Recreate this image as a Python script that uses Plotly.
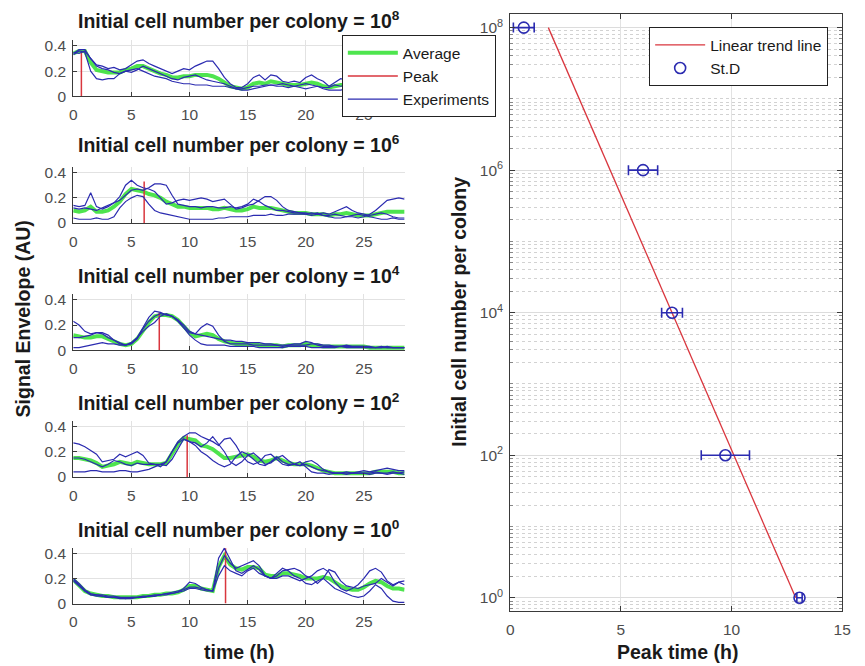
import numpy as np
import plotly.graph_objects as go

# ---------------- data ----------------
time_h = np.arange(0, 28.51, 0.5)  # 58 samples, 0 .. 28.5 h

exponents = ["8", "6", "4", "2", "0"]

# 10^8
p8_exp_a = [.34,.37,.37,.30,.25,.24,.22,.23,.21,.22,
            .25,.28,.29,.26,.24,.22,.20,.18,.20,.22,
            .21,.24,.26,.28,.28,.22,.15,.10,.07,.07,
            .10,.15,.17,.13,.17,.16,.12,.11,.12,.11,
            .15,.17,.14,.12,.08,.11,.14,.13,.10,.09,
            .12,.10,.08,.09,.07,.08,.07,.08]
p8_exp_b = [.33,.36,.35,.20,.14,.13,.14,.14,.18,.20,
            .21,.22,.20,.18,.16,.15,.14,.12,.11,.10,
            .10,.09,.09,.09,.08,.08,.08,.07,.06,.05,
            .05,.06,.07,.08,.09,.08,.08,.07,.08,.07,
            .06,.07,.08,.06,.05,.05,.05,.06,.06,.05,
            .06,.07,.05,.06,.07,.06,.05,.06]
p8_exp_c = [.35,.34,.36,.30,.24,.22,.21,.19,.18,.20,
            .19,.21,.24,.22,.20,.18,.16,.14,.13,.15,
            .16,.17,.15,.13,.12,.11,.10,.08,.06,.06,
            .07,.08,.08,.09,.09,.09,.10,.09,.08,.09,
            .10,.09,.08,.07,.07,.09,.08,.09,.08,.07,
            .08,.09,.07,.08,.09,.08,.07,.08]
p8_avg = [.34,.36,.36,.27,.21,.20,.19,.19,.19,.21,
          .22,.24,.24,.22,.20,.18,.17,.15,.15,.16,
          .16,.17,.17,.17,.16,.14,.11,.08,.07,.06,
          .07,.10,.11,.10,.12,.11,.10,.09,.09,.09,
          .10,.11,.10,.08,.07,.08,.09,.09,.08,.07,
          .09,.09,.07,.08,.08,.07,.06,.07]

# 10^6
p6_exp_a = [.14,.13,.14,.24,.13,.11,.13,.16,.21,.30,
            .34,.30,.28,.27,.25,.20,.15,.16,.18,.19,
            .18,.19,.20,.19,.17,.18,.19,.15,.11,.12,
            .14,.15,.18,.21,.21,.18,.13,.10,.09,.08,
            .08,.07,.08,.06,.06,.07,.06,.05,.05,.04,
            .05,.07,.10,.14,.18,.19,.20,.19]
p6_exp_b = [.04,.03,.03,.03,.04,.03,.03,.05,.12,.17,
            .20,.22,.21,.15,.10,.08,.07,.06,.05,.04,
            .03,.03,.03,.03,.03,.04,.04,.05,.05,.05,
            .05,.06,.06,.06,.07,.06,.06,.07,.07,.07,
            .07,.06,.07,.06,.05,.04,.04,.05,.06,.07,
            .06,.05,.04,.03,.03,.04,.03,.03]
p6_exp_c = [.12,.11,.12,.11,.10,.12,.14,.16,.18,.22,
            .26,.27,.26,.28,.31,.31,.30,.22,.15,.14,
            .13,.13,.12,.13,.13,.12,.12,.13,.12,.13,
            .15,.19,.17,.14,.12,.10,.10,.09,.08,.08,
            .07,.08,.07,.08,.07,.09,.11,.13,.10,.08,
            .07,.06,.07,.08,.07,.05,.04,.04]
p6_avg = [.10,.09,.10,.13,.09,.09,.10,.13,.17,.23,
          .27,.26,.25,.23,.22,.20,.17,.15,.13,.13,
          .12,.12,.12,.12,.11,.11,.12,.11,.10,.10,
          .11,.13,.12,.12,.12,.11,.10,.09,.08,.08,
          .08,.07,.07,.07,.06,.07,.07,.08,.07,.06,
          .06,.06,.07,.08,.09,.09,.09,.09]

# 10^4
p4_exp_a = [.23,.20,.15,.13,.14,.14,.12,.08,.05,.04,
            .06,.10,.18,.26,.31,.30,.28,.27,.24,.18,
            .14,.13,.18,.21,.19,.12,.07,.05,.05,.05,
            .05,.04,.04,.04,.04,.04,.04,.04,.05,.05,
            .07,.06,.04,.03,.03,.03,.03,.03,.03,.03,
            .03,.02,.02,.03,.02,.02,.02,.02]
p4_exp_b = [.02,.02,.03,.04,.05,.06,.05,.05,.04,.04,
            .06,.10,.15,.19,.22,.27,.29,.27,.23,.18,
            .12,.08,.05,.04,.04,.04,.04,.03,.03,.03,
            .03,.03,.02,.02,.02,.02,.02,.03,.03,.03,
            .03,.02,.02,.02,.02,.02,.03,.02,.02,.02,
            .02,.02,.02,.02,.02,.02,.02,.02]
p4_exp_c = [.10,.10,.11,.12,.14,.13,.10,.08,.06,.04,
            .05,.09,.17,.23,.27,.29,.28,.27,.24,.20,
            .15,.13,.12,.11,.10,.09,.08,.08,.07,.07,
            .06,.06,.06,.05,.05,.04,.03,.04,.04,.04,
            .04,.05,.05,.04,.04,.03,.03,.04,.03,.03,
            .03,.03,.02,.02,.03,.02,.02,.02]
p4_avg = [.12,.11,.10,.10,.11,.11,.09,.07,.05,.04,
          .05,.09,.16,.22,.27,.28,.28,.27,.24,.19,
          .14,.11,.12,.13,.12,.09,.07,.06,.05,.05,
          .05,.05,.04,.04,.04,.04,.03,.04,.04,.04,
          .05,.04,.04,.03,.03,.03,.03,.03,.03,.03,
          .03,.02,.02,.02,.02,.02,.02,.02]

# 10^2
p2_exp_a = [.27,.26,.24,.21,.18,.12,.13,.14,.18,.16,
            .18,.20,.17,.11,.10,.10,.09,.14,.22,.30,
            .28,.27,.24,.27,.32,.26,.20,.12,.09,.12,
            .17,.19,.15,.10,.11,.15,.17,.13,.10,.09,
            .12,.13,.10,.06,.04,.03,.03,.02,.03,.03,
            .03,.02,.03,.03,.02,.03,.03,.02]
p2_exp_b = [.04,.04,.04,.05,.05,.04,.04,.04,.05,.05,
            .04,.04,.05,.06,.08,.10,.12,.20,.28,.32,
            .35,.35,.32,.30,.28,.25,.30,.31,.25,.17,
            .12,.10,.12,.17,.18,.14,.10,.09,.10,.12,
            .08,.04,.03,.03,.02,.03,.03,.04,.03,.04,
            .05,.04,.05,.06,.07,.06,.05,.05]
p2_exp_c = [.15,.15,.14,.12,.10,.08,.10,.13,.12,.10,
            .09,.11,.10,.10,.10,.08,.12,.20,.27,.30,
            .28,.25,.20,.17,.13,.10,.08,.10,.16,.20,
            .18,.14,.10,.09,.12,.16,.12,.10,.10,.09,
            .10,.08,.06,.05,.04,.03,.03,.03,.03,.03,
            .03,.03,.04,.03,.03,.04,.03,.04]
p2_avg = [.15,.15,.14,.13,.11,.08,.09,.10,.12,.11,
          .10,.12,.11,.10,.10,.10,.11,.18,.26,.31,
          .30,.29,.25,.24,.22,.18,.15,.15,.16,.17,
          .18,.16,.13,.12,.13,.15,.13,.11,.10,.10,
          .10,.09,.07,.05,.04,.03,.03,.03,.03,.03,
          .03,.03,.04,.04,.04,.04,.03,.03]

# 10^0
p0_exp_a = [.20,.16,.11,.08,.07,.07,.06,.06,.05,.05,
            .05,.05,.06,.06,.07,.07,.08,.08,.09,.12,
            .17,.16,.13,.11,.10,.28,.38,.32,.28,.30,
            .32,.34,.30,.22,.20,.20,.22,.22,.20,.18,
            .20,.22,.26,.28,.25,.17,.12,.10,.12,.15,
            .20,.26,.28,.25,.18,.15,.17,.15]
p0_exp_b = [.19,.15,.10,.07,.06,.06,.05,.05,.04,.04,
            .04,.05,.05,.06,.06,.07,.08,.09,.10,.11,
            .13,.13,.12,.11,.10,.36,.44,.35,.26,.24,
            .27,.30,.27,.22,.20,.24,.28,.26,.22,.20,
            .16,.15,.18,.20,.16,.12,.10,.08,.06,.05,
            .06,.10,.15,.12,.06,.02,.01,.01]
p0_exp_c = [.18,.14,.10,.07,.07,.06,.05,.05,.05,.04,
            .05,.05,.05,.06,.06,.07,.07,.08,.09,.10,
            .12,.12,.11,.10,.10,.22,.30,.26,.24,.22,
            .26,.28,.24,.22,.20,.22,.26,.27,.28,.26,
            .22,.20,.16,.20,.27,.25,.18,.14,.13,.12,
            .14,.15,.16,.20,.17,.14,.17,.18]
p0_avg = [.19,.15,.10,.08,.07,.06,.06,.05,.05,.05,
          .05,.05,.06,.06,.07,.07,.08,.08,.09,.11,
          .14,.14,.12,.11,.10,.29,.38,.31,.28,.27,
          .29,.29,.28,.23,.22,.22,.24,.24,.23,.22,
          .20,.20,.20,.21,.20,.17,.14,.12,.11,.11,
          .13,.16,.18,.17,.14,.12,.12,.11]

peak_time = [0.7, 6.1, 7.4, 9.8, 13.1]
peak_value = [0.35, 0.33, 0.30, 0.33, 0.44]

# right panel
initial_cells = [1e8, 1e6, 1e4, 1e2, 1e0]
peak_time_mean = [0.61, 6.0, 7.31, 9.72, 13.07]
peak_time_std = [0.47, 0.66, 0.47, 1.09, 0.12]
trend_time = [1.72, 12.9]
trend_cells = [1e8, 1e0]

left_x_ticks = [0, 5, 10, 15, 20, 25]
left_y_ticks = [0, 0.2, 0.4]
right_x_ticks = [0, 5, 10, 15]
right_y_ticks = [1e0, 1e2, 1e4, 1e6, 1e8]
right_y_ticktext = ["10<sup>0</sup>", "10<sup>2</sup>", "10<sup>4</sup>", "10<sup>6</sup>", "10<sup>8</sup>"]

panels = [
    ([p8_exp_a, p8_exp_b, p8_exp_c], p8_avg),
    ([p6_exp_a, p6_exp_b, p6_exp_c], p6_avg),
    ([p4_exp_a, p4_exp_b, p4_exp_c], p4_avg),
    ([p2_exp_a, p2_exp_b, p2_exp_c], p2_avg),
    ([p0_exp_a, p0_exp_b, p0_exp_c], p0_avg),
]

# ---------------- styling ----------------
W, H = 865, 666
FONT = "Liberation Sans, Arial, Helvetica, sans-serif"
GREEN = "#2fe02f"
RED = "#d9363e"
BLUE = "#2b2bb0"
TICKC = "#4d4d4d"
GRID = "#e2e2e2"
AXC = "#3a3a3a"
TXT = "#1a1a1a"


def py(p):
    # vertical pixel position (from top) -> paper fraction
    q = (p - 2.8) / 0.982
    return 1 - q / H


def px(p):
    # horizontal pixel position (from left) -> paper fraction
    return p / W


fig = go.Figure()

left_dom = [px(70.3), px(406.7)]
left_mid = (left_dom[0] + left_dom[1]) / 2
bottoms = [96, 222.5, 349.5, 476, 602.5]
ph = 56
title_y = [20, 144, 274, 401, 528]

layout = dict(
    width=W, height=H,
    margin=dict(l=0, r=0, t=0, b=0),
    paper_bgcolor="white", plot_bgcolor="white",
    font=dict(family=FONT, color=TXT),
    showlegend=True,
)

tickfont = dict(size=15.5, color=TICKC, family=FONT)

annotations = []
for i, (exps, avg) in enumerate(panels):
    n = "" if i == 0 else str(i + 1)
    xr, yr = "x" + n, "y" + n
    fig.add_trace(go.Scatter(x=time_h, y=avg, mode="lines", name="Average",
                             line=dict(color=GREEN, width=4), opacity=0.85,
                             xaxis=xr, yaxis=yr, legend="legend",
                             showlegend=(i == 0)))
    fig.add_trace(go.Scatter(x=[peak_time[i], peak_time[i]], y=[0, peak_value[i]],
                             mode="lines", name="Peak",
                             line=dict(color=RED, width=1.5),
                             xaxis=xr, yaxis=yr, legend="legend",
                             showlegend=(i == 0)))
    for k, e in enumerate(exps):
        fig.add_trace(go.Scatter(x=time_h, y=e, mode="lines", name="Experiments",
                                 line=dict(color=BLUE, width=1.2),
                                 xaxis=xr, yaxis=yr, legend="legend",
                                 showlegend=(i == 0 and k == 0)))
    b = bottoms[i]
    layout["xaxis" + n] = dict(
        domain=left_dom, anchor=yr, range=[0, 28.5], tickvals=left_x_ticks,
        showgrid=True, gridcolor=GRID, zeroline=False,
        showline=True, linecolor=AXC, linewidth=1,
        ticks="inside", ticklen=4, tickcolor=AXC, ticklabelstandoff=4,
        tickfont=tickfont)
    layout["yaxis" + n] = dict(
        domain=[py(b), py(b - ph)], anchor=xr, range=[0, 0.445],
        tickvals=left_y_ticks, ticktext=["0", "0.2", "0.4"],
        showgrid=True, gridcolor=GRID, zeroline=False,
        showline=True, linecolor=AXC, linewidth=1,
        ticks="inside", ticklen=4, tickcolor=AXC, ticklabelstandoff=3,
        tickfont=tickfont)
    annotations.append(dict(
        text="<b>Initial cell number per colony = 10<sup>" + exponents[i] + "</sup></b>",
        x=left_mid, y=py(title_y[i]), xref="paper", yref="paper",
        xanchor="center", yanchor="middle", showarrow=False,
        font=dict(size=19.5, color=TXT, family=FONT)))

# right panel
fig.add_trace(go.Scatter(x=trend_time, y=trend_cells, mode="lines", name="Linear trend line",
                         line=dict(color=RED, width=1.3), xaxis="x6", yaxis="y6",
                         legend="legend2"))
fig.add_trace(go.Scatter(x=peak_time_mean, y=initial_cells, mode="markers", name="St.D",
                         marker=dict(symbol="circle-open", size=11, color=BLUE,
                                     line=dict(width=1.6, color=BLUE)),
                         error_x=dict(type="data", array=peak_time_std, visible=True,
                                      color=BLUE, thickness=1.6, width=5),
                         xaxis="x6", yaxis="y6", legend="legend2"))

minor_vals = [m * 10.0 ** d for d in range(-1, 9) for m in range(1, 10)
              if not (m == 1 and d % 2 == 0)]

layout["xaxis6"] = dict(
    domain=[px(514), px(851)], anchor="y6", range=[0, 15], tickvals=right_x_ticks,
    showgrid=True, gridcolor=GRID, zeroline=False,
    showline=True, linecolor=AXC, linewidth=1.2, mirror="ticks",
    ticks="inside", ticklen=5, tickcolor=AXC, ticklabelstandoff=4,
    tickfont=tickfont)
layout["yaxis6"] = dict(
    domain=[py(610), py(14)], anchor="x6", type="log", range=[-0.187, 8.188],
    tickvals=right_y_ticks, ticktext=right_y_ticktext,
    showgrid=True, gridcolor="#dcdcdc", zeroline=False,
    showline=True, linecolor=AXC, linewidth=1.2, mirror="ticks",
    ticks="inside", ticklen=5, tickcolor=AXC, ticklabelstandoff=3,
    tickfont=tickfont,
    minor=dict(tickvals=minor_vals, showgrid=True, gridcolor="#d2d2d2",
               griddash="dot", gridwidth=1, ticks="inside", ticklen=3, tickcolor="#888"))

annotations += [
    dict(text="<b>Signal Envelope (AU)</b>", x=px(19), y=py(318), xref="paper", yref="paper",
         textangle=-90, showarrow=False, xanchor="center", yanchor="middle",
         font=dict(size=19.5, color=TXT, family=FONT)),
    dict(text="<b>time (h)</b>", x=left_mid, y=py(651),
         xref="paper", yref="paper", showarrow=False, xanchor="center", yanchor="middle",
         font=dict(size=19.5, color=TXT, family=FONT)),
    dict(text="<b>Peak time (h)</b>", x=px(684), y=py(651),
         xref="paper", yref="paper", showarrow=False, xanchor="center", yanchor="middle",
         font=dict(size=19.5, color=TXT, family=FONT)),
    dict(text="<b>Initial cell number per colony</b>", x=px(462), y=py(311),
         xref="paper", yref="paper", textangle=-90, showarrow=False,
         xanchor="center", yanchor="middle",
         font=dict(size=19.5, color=TXT, family=FONT)),
]
layout["annotations"] = annotations

layout["legend"] = dict(x=px(343), y=py(35), xanchor="left", yanchor="top",
                        bgcolor="white", bordercolor="#222", borderwidth=1,
                        font=dict(size=15.5, color=TXT, family=FONT),
                        tracegroupgap=0, itemwidth=50)
layout["legend2"] = dict(x=px(655), y=py(27), xanchor="left", yanchor="top",
                         bgcolor="white", bordercolor="#222", borderwidth=1,
                         font=dict(size=15.5, color=TXT, family=FONT),
                         tracegroupgap=0, itemwidth=50)

fig.update_layout(**layout)
fig.write_html(
    "out.html", config={"displayModeBar": False},
    post_script=("document.documentElement.style.margin='0px';"
                 "document.documentElement.style.overflow='hidden';"
                 "document.body.style.margin='0px';"
                 "document.body.style.overflow='hidden';"))
